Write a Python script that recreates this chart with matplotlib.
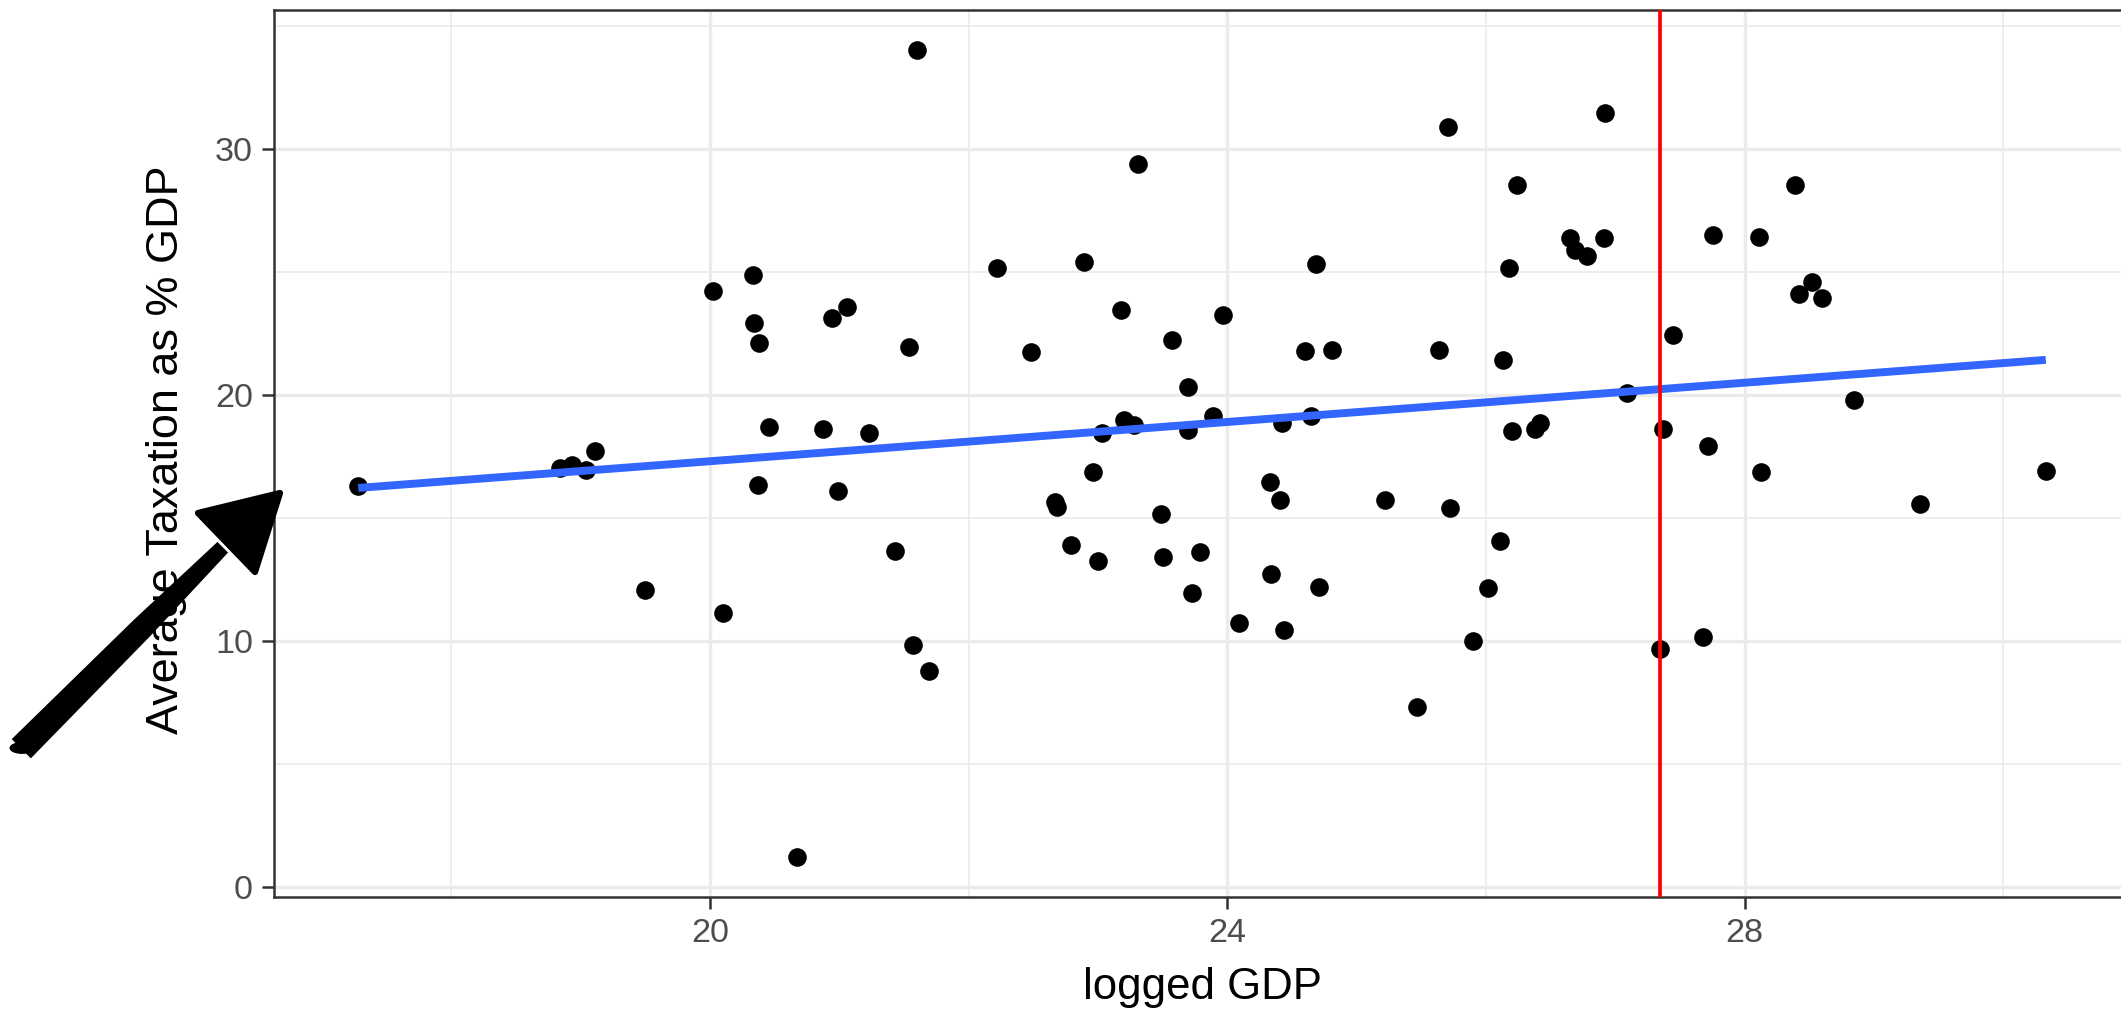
"""
Taxation vs logged GDP
----------------------
Scatter of average taxation (% of GDP) against logged GDP,
with a straight-line (OLS) fit, a red reference line and a hand-drawn arrow.
"""

import numpy as np
import matplotlib
matplotlib.use("Agg")
import matplotlib.pyplot as plt
from matplotlib.patches import Polygon, Circle

# Data
logged_gdp = [
    17.28, 18.84, 18.93, 19.04, 19.11, 19.50, 20.02, 20.10, 20.33, 20.34,
    20.38, 20.37, 20.46, 20.67, 20.87, 20.94, 20.99, 21.06, 21.23, 21.43,
    21.54, 21.57, 21.60, 21.69, 22.22, 22.48, 22.67, 22.68, 22.79, 22.89,
    22.96, 23.00, 23.03, 23.18, 23.20, 23.28, 23.31, 23.49, 23.50, 23.57,
    23.70, 23.70, 23.73, 23.79, 23.89, 23.97, 24.09, 24.33, 24.34, 24.42,
    24.41, 24.44, 24.60, 24.65, 24.69, 24.71, 24.81, 25.22, 25.47, 25.64,
    25.71, 25.72, 25.90, 26.02, 26.11, 26.13, 26.18, 26.20, 26.24, 26.38,
    26.42, 26.65, 26.69, 26.78, 26.91, 26.92, 27.09, 27.35, 27.37, 27.45,
    27.68, 27.72, 27.76, 28.11, 28.13, 28.39, 28.42, 28.52, 28.60, 28.85,
    29.36, 30.33,
]
avg_taxation = [
    16.31, 17.05, 17.18, 16.95, 17.75, 12.07, 24.24, 11.16, 24.88, 22.92,
    22.13, 16.35, 18.72, 1.24, 18.65, 23.14, 16.11, 23.58, 18.45, 13.67,
    21.95, 9.86, 34.03, 8.80, 25.17, 21.77, 15.66, 15.46, 13.90, 25.42,
    16.89, 13.25, 18.45, 23.46, 18.99, 18.79, 29.42, 15.19, 13.42, 22.24,
    20.32, 18.61, 11.98, 13.64, 19.18, 23.25, 10.75, 16.48, 12.74, 18.88,
    15.76, 10.45, 21.80, 19.18, 25.35, 12.22, 21.86, 15.76, 7.32, 21.84,
    30.91, 15.43, 10.00, 12.15, 14.08, 21.43, 25.17, 18.54, 28.54, 18.65,
    18.88, 26.41, 25.90, 25.65, 26.39, 31.49, 20.09, 9.68, 18.65, 22.44,
    10.19, 17.95, 26.53, 26.44, 16.89, 28.54, 24.11, 24.61, 23.96, 19.80,
    15.60, 16.92,
]
cutoff_gdp = 27.35

x_major = [20, 24, 28]
x_minor = [18, 22, 26, 30]
y_major = [0, 10, 20, 30]
y_minor = [5, 15, 25, 35]

# Figure size in pixels
W, H, DPI = 2121, 1010, 300

# Hand-drawn arrow, in figure pixels (y measured from the top)
ARROW_TAIL = (22, 748)
ARROW_JOIN = (222, 548)
ARROW_TIP = (280, 493)
ARROW_CORNERS = [(198, 513), (255, 572)]
ARROW_HALF_WIDTHS = (12.5, 10.5, 6.5)   # tail, middle, join


def expanded(values, frac=0.05):
    """ggplot-style 5% padding of the data range."""
    lo, hi = min(values), max(values)
    pad = (hi - lo) * frac
    return lo - pad, hi + pad


def draw_arrow(fig):
    """Thick tapered arrow pointing at the start of the fit line."""
    def to_fig(p):
        return (p[0] / W, 1 - p[1] / H)

    tail = np.array(ARROW_TAIL, dtype=float)
    join = np.array(ARROW_JOIN, dtype=float)
    mid = tail + 0.6 * (join - tail)
    d = (join - tail) / np.linalg.norm(join - tail)
    n = np.array([-d[1], d[0]])
    w_tail, w_mid, w_join = ARROW_HALF_WIDTHS

    shaft = [tail + w_tail * n, mid + w_mid * n, join + w_join * n,
             join - w_join * n, mid - w_mid * n, tail - w_tail * n]
    fig.add_artist(Polygon([to_fig(p) for p in shaft], closed=True,
                           transform=fig.transFigure, color="black", lw=0.5))
    fig.add_artist(Circle(to_fig(tail), radius=w_tail / W, transform=fig.transFigure,
                          color="black", lw=0))
    head = [ARROW_CORNERS[0], ARROW_TIP, ARROW_CORNERS[1]]
    fig.add_artist(Polygon([to_fig(p) for p in head], closed=True,
                           transform=fig.transFigure, color="black",
                           lw=1.5, joinstyle="round"))


def main():
    plt.rcParams["font.family"] = ["Liberation Sans", "DejaVu Sans"]

    fig = plt.figure(figsize=(W / DPI, H / DPI), dpi=DPI)

    xlim = expanded(logged_gdp)
    ylim = expanded(avg_taxation)

    # Panel placed so that 20 -> 710px, 28 -> 1744.5px, 0 -> 887.4px, 30 -> 149.3px
    px_per_x = (1744.5 - 710) / 8
    px_per_y = (887.4 - 149.3) / 30
    left = 710 + (xlim[0] - 20) * px_per_x
    right = 710 + (xlim[1] - 20) * px_per_x
    bottom = 887.4 - ylim[0] * px_per_y
    top = 887.4 - ylim[1] * px_per_y
    ax = fig.add_axes([left / W, 1 - bottom / H, (right - left) / W, (bottom - top) / H])

    ax.set_xlim(*xlim)
    ax.set_ylim(*ylim)

    # theme_bw look
    ax.set_xticks(x_major)
    ax.set_xticks(x_minor, minor=True)
    ax.set_yticks(y_major)
    ax.set_yticks(y_minor, minor=True)
    ax.grid(which="major", color="#EBEBEB", linewidth=0.8, zorder=0)
    ax.grid(which="minor", color="#EBEBEB", linewidth=0.4, zorder=0)
    ax.set_axisbelow(True)
    ax.tick_params(which="major", length=2.8, width=0.6, color="#333333",
                   labelsize=8.2, labelcolor="#4D4D4D", pad=2.2)
    ax.tick_params(which="minor", length=0)
    for side in ["left", "top", "bottom"]:
        ax.spines[side].set_color("#333333")
        ax.spines[side].set_linewidth(0.6)
    ax.spines["right"].set_visible(False)

    # Points
    ax.scatter(logged_gdp, avg_taxation, s=20, color="black", linewidths=0, zorder=3)

    # Straight-line fit
    slope, intercept = np.polyfit(logged_gdp, avg_taxation, 1)
    xs = np.array([min(logged_gdp), max(logged_gdp)])
    ax.plot(xs, intercept + slope * xs, color="#3366FF", linewidth=1.9,
            solid_capstyle="butt", zorder=4)

    # Red reference line
    ax.axvline(cutoff_gdp, color="red", linewidth=0.9, zorder=5)

    ax.set_xlabel("logged GDP", fontsize=10.5, color="black")
    ax.set_ylabel("Average Taxation as % GDP", fontsize=10.8, color="black")
    ax.xaxis.set_label_coords(0.5, (bottom - 987) / (bottom - top))
    ax.yaxis.set_label_coords((167 - left) / (right - left), (bottom - 450) / (bottom - top))
    ax.xaxis.label.set_va("center")
    ax.yaxis.label.set_va("center")

    draw_arrow(fig)

    fig.savefig("out.png", dpi=DPI)
    plt.close(fig)
    print(f"fit: slope={slope:.3f}, intercept={intercept:.3f}")


if __name__ == "__main__":
    main()
